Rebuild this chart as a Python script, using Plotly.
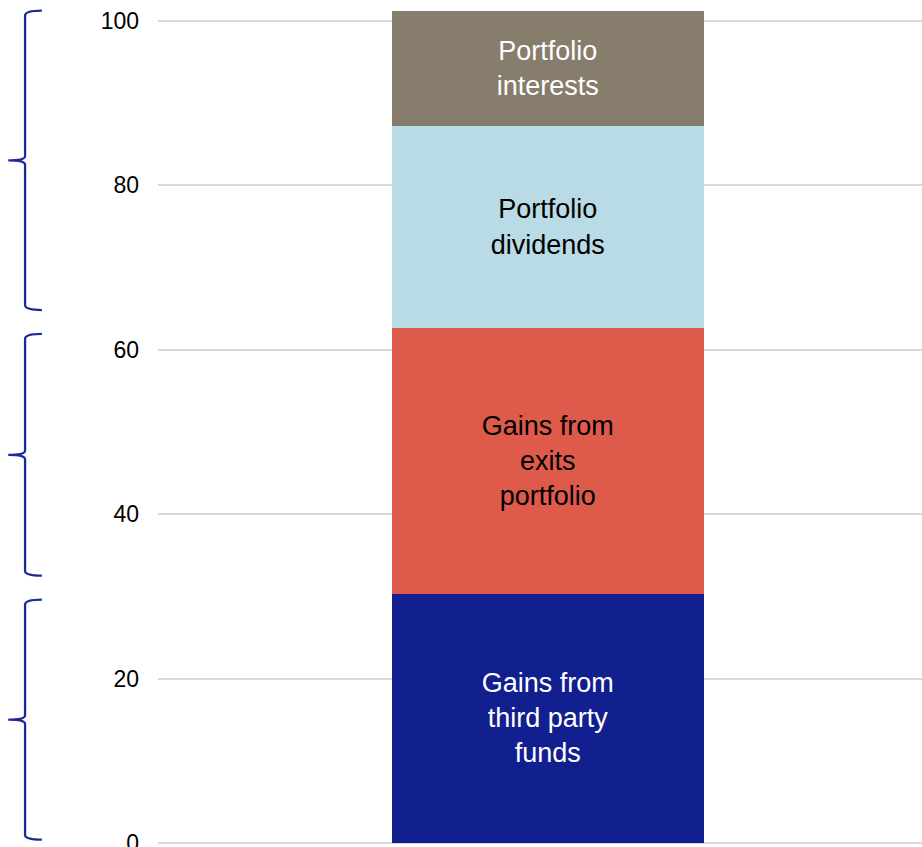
import plotly.graph_objects as go

# Income components stacked in a single column
segments = ["Gains from<br>third party<br>funds", "Gains from<br>exits<br>portfolio",
            "Portfolio<br>dividends", "Portfolio<br>interests"]
values = [30.3, 32.3, 24.6, 14.0]
colors = ["#121f8f", "#de5a4a", "#b9dbe5", "#867d6d"]
text_colors = ["#ffffff", "#000000", "#000000", "#ffffff"]
tick_vals = [0, 20, 40, 60, 80, 100]

# Groups marked by curly brackets on the left (indices into segments)
groups = [(0, 0), (1, 1), (2, 3)]

fig = go.Figure()
for name, v, c, tc in zip(segments, values, colors, text_colors):
    fig.add_trace(go.Bar(
        x=[0], y=[v], width=1, marker=dict(color=c, line=dict(width=0)),
        text=[name], texttemplate="%{text}", textposition="inside",
        insidetextanchor="middle",
        textfont=dict(color=tc, size=27, family="Liberation Sans, Arial"),
        hoverinfo="skip", showlegend=False,
    ))

# Curly brackets spanning each group
cum = [0]
for v in values:
    cum.append(cum[-1] + v)

x_hook, x_stem, x_tip = -0.152, -0.174, -0.196
shapes = []
for i, (a, b) in enumerate(groups):
    lo = cum[a] + (0.4 if cum[a] == 0 else 2.2)
    hi = cum[b + 1] - (0.0 if b == len(values) - 1 else 0.7)
    mid = (lo + hi) / 2
    path = (f"M {x_hook},{hi} Q {x_stem},{hi} {x_stem},{hi-0.6} "
            f"L {x_stem},{mid+0.5} Q {x_stem},{mid} {x_tip},{mid} "
            f"Q {x_stem},{mid} {x_stem},{mid-0.5} "
            f"L {x_stem},{lo+0.6} Q {x_stem},{lo} {x_hook},{lo}")
    shapes.append(dict(type="path", xref="paper", yref="y", path=path,
                       line=dict(color="#1a2a9a", width=2.3)))

fig.update_layout(
    barmode="stack",
    width=922, height=847,
    margin=dict(l=158, r=0, t=0, b=4, autoexpand=False),
    paper_bgcolor="white", plot_bgcolor="white",
    shapes=shapes,
    xaxis=dict(range=[-1.25, 1.2], showticklabels=False, showgrid=False,
               zeroline=False, fixedrange=True, automargin=False),
    yaxis=dict(range=[0, 102.5], tickvals=tick_vals, showgrid=True,
               gridcolor="#d9d9d9", gridwidth=1.5, zeroline=True,
               zerolinecolor="#d9d9d9", zerolinewidth=1.5, automargin=False,
               tickfont=dict(size=23, color="#000000", family="Liberation Sans, Arial"),
               ticks="", ticklabelstandoff=18, ticklabeloverflow="allow"),
    uniformtext=dict(mode=False),
)

fig.write_html("out.html")
